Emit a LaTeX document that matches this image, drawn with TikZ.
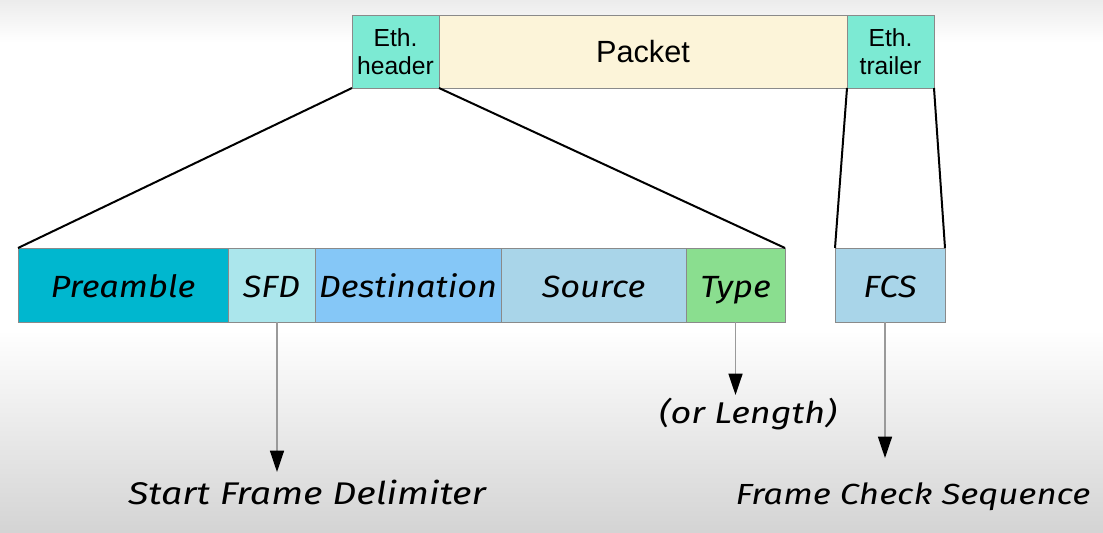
\documentclass[tikz,border=0pt]{standalone}
\usepackage{fontspec}
\setmainfont{Liberation Sans}
\newfontfamily\hand{Fira Sans}[FakeStretch=1.12]
\newfontfamily\handn{Fira Sans}[FakeStretch=1.2]
\usetikzlibrary{arrows.meta}
\definecolor{ethc}{HTML}{7CEAD3}
\definecolor{packc}{HTML}{FCF4D9}
\definecolor{prec}{HTML}{00B7CF}
\definecolor{sfdc}{HTML}{ABE6EC}
\definecolor{dstc}{HTML}{85C7F7}
\definecolor{srcc}{HTML}{A9D5E9}
\definecolor{typec}{HTML}{8ADE8F}
\definecolor{fcsc}{HTML}{A9D5E9}
\definecolor{bgbot}{HTML}{D4D4D4}
\definecolor{bgtop}{HTML}{ECECEC}
\definecolor{boxline}{HTML}{8A8A8A}
\definecolor{arrline}{HTML}{9A9A9A}
\pgfdeclareverticalshading{bgshade}{100bp}{color(0bp)=(bgbot); color(25bp)=(bgbot); color(44bp)=(white); color(71bp)=(white); color(75bp)=(bgtop); color(100bp)=(bgtop)}
\begin{document}
\begin{tikzpicture}[x=0.75pt,y=-0.75pt,
  fbox/.style={draw=boxline, line width=0.75pt, inner sep=0pt, outer sep=0pt, anchor=north west, text=black},
  toprow/.style={fbox, minimum height=54.75pt},
  ethbox/.style={toprow, fill=ethc, minimum width=65.25pt, align=center, font=\fontsize{18.5}{21}\selectfont},
  lowrow/.style={fbox, minimum height=55.5pt, text height=22pt, text depth=4pt, font=\hand\itshape\fontsize{23}{26}\selectfont},
  zoomline/.style={draw=black, line width=1.5pt},
  arr/.style={draw=arrline, line width=1.1pt, -{Triangle[width=10.5pt,length=16pt,color=black]}},
  lbl/.style={inner sep=0pt, anchor=base, font=\handn\itshape\fontsize{23.5}{26}\selectfont}
]
\shade[shading=bgshade] (0,0) rectangle (1103,532);
\useasboundingbox (0,0) rectangle (1103,532);

% top row
\node[ethbox] (ethh) at (352,15) {Eth.\\header};
\node[toprow, fill=packc, minimum width=306pt, font=\fontsize{23}{26}\selectfont] (pack) at (439,15) {Packet};
\node[ethbox] (etht) at (847,15) {Eth.\\trailer};

% lower row
\node[lowrow, fill=prec, minimum width=157.5pt] (pre) at (18,248) {Preamble};
\node[lowrow, fill=sfdc, minimum width=65.25pt] (sfd) at (228,248) {SFD};
\node[lowrow, fill=dstc, minimum width=139.5pt] (dst) at (315,248) {Destination};
\node[lowrow, fill=srcc, minimum width=138.75pt] (src) at (501,248) {Source};
\node[lowrow, fill=typec, minimum width=74.25pt] (type) at (686,248) {Type};
\node[lowrow, fill=fcsc, minimum width=82.5pt] (fcs) at (835,248) {FCS};

% zoom lines
\draw[zoomline] (ethh.south west) -- (pre.north west);
\draw[zoomline] (ethh.south east) -- (type.north east);
\draw[zoomline] (etht.south west) -- (fcs.north west);
\draw[zoomline] (etht.south east) -- (fcs.north east);

% labels
\node[lbl] (sfdl) at (307,504) {Start Frame Delimiter};
\node[lbl, font=\handn\itshape\fontsize{22.5}{25}\selectfont] (lenl) at (748,423) {(or Length)};
\node[lbl, font=\handn\itshape\fontsize{21.8}{25}\selectfont] (fcsl) at (913,504) {Frame Check Sequence};

\coordinate (sfdtop) at (277,322);
\coordinate (sfdtip) at (277,472);
\coordinate (typetip) at (type.south |- 0,395);
\coordinate (fcstop) at (885,322);
\coordinate (fcstip) at (885,458);

\draw[arr] (sfdtop) -- (sfdtip);
\draw[arr] (type.south) -- (typetip);
\draw[arr] (fcstop) -- (fcstip);
\end{tikzpicture}
\end{document}
